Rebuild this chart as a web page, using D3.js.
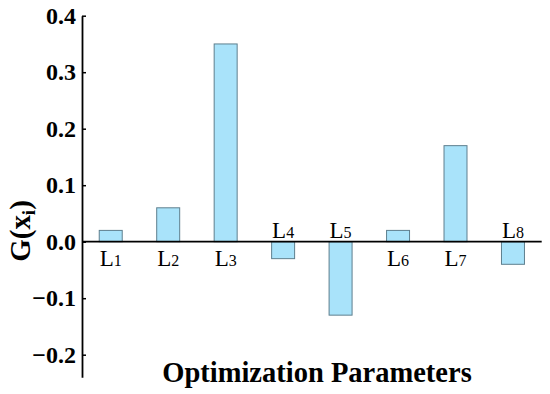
<!DOCTYPE html>
<html lang="en">
<head>
  <meta charset="utf-8" />
  <title>G(xi) by optimization parameter</title>
  <script src="https://d3js.org/d3.v7.min.js"></script>
  <style>
    body { margin: 0; background: #fff; }
    text { font-family: "Liberation Serif", "Times New Roman", serif; }
  </style>
</head>
<body>
  <div id="chart"></div>
  <script>
    // values
    const params = ["L1", "L2", "L3", "L4", "L5", "L6", "L7", "L8"];
    const subs = ["1", "2", "3", "4", "5", "6", "7", "8"];
    const gValues = [0.02, 0.06, 0.35, -0.03, -0.13, 0.02, 0.17, -0.04];
    const yTicks = [-0.2, -0.1, 0.0, 0.1, 0.2, 0.3, 0.4];

    const W = 550, H = 394;
    const left = 82, right = 541.7;

    const svg = d3.select("#chart").append("svg")
      .attr("width", W).attr("height", H);

    const x = d3.scaleBand().domain(params).range([left, right])
      .paddingInner(0.6).paddingOuter(0.3);
    const y = d3.scaleLinear().domain([-0.24, 0.4]).range([377.3, 15.7]);

    // bars
    svg.append("g").selectAll("rect")
      .data(params)
      .join("rect")
      .attr("x", (d) => x(d))
      .attr("width", x.bandwidth())
      .attr("y", (d, i) => y(Math.max(0, gValues[i])))
      .attr("height", (d, i) => Math.abs(y(gValues[i]) - y(0)))
      .attr("fill", "#a9e3fa")
      .attr("stroke", "#5e7f8e")
      .attr("stroke-width", 1);

    // zero line
    svg.append("line")
      .attr("x1", left).attr("x2", right)
      .attr("y1", y(0)).attr("y2", y(0))
      .attr("stroke", "#000").attr("stroke-width", 1.8);

    // y axis, ticks point inward
    const yAxis = svg.append("g")
      .attr("transform", `translate(${left},0)`)
      .call(d3.axisLeft(y).tickValues(yTicks).tickFormat(d3.format(".1f"))
        .tickSizeInner(-4).tickSizeOuter(0).tickPadding(6))
      .attr("font-family", "'Liberation Serif', serif");
    yAxis.select(".domain").attr("stroke-width", 1.8);
    yAxis.selectAll(".tick line").attr("stroke-width", 1.5);
    yAxis.selectAll("text")
      .style("font-family", "'Liberation Serif', serif")
      .style("font-size", "24px")
      .style("font-weight", "bold")
      .attr("fill", "#000");

    // bar labels: below the axis for positive bars, above for negative
    const labels = svg.append("g").selectAll("text")
      .data(params)
      .join("text")
      .attr("x", (d) => x(d) + x.bandwidth() / 2)
      .attr("y", (d, i) => gValues[i] >= 0 ? y(0) + 24.5 : y(0) - 4)
      .attr("text-anchor", "middle")
      .style("font-size", "23px")
      .attr("fill", "#000");
    labels.append("tspan").text("L");
    labels.append("tspan").style("font-size", "16px").text((d, i) => subs[i]);

    // axis titles
    svg.append("text")
      .attr("x", 317).attr("y", 382)
      .attr("text-anchor", "middle")
      .style("font-size", "28.5px")
      .style("font-weight", "bold")
      .text("Optimization Parameters");

    const yTitle = svg.append("text")
      .attr("transform", "translate(30,231) rotate(-90)")
      .attr("text-anchor", "middle")
      .style("font-size", "29px")
      .style("font-weight", "bold");
    yTitle.append("tspan").text("G(x");
    yTitle.append("tspan").style("font-size", "19px").attr("dy", 5).text("i");
    yTitle.append("tspan").attr("dy", -5).text(")");
  </script>
</body>
</html>
